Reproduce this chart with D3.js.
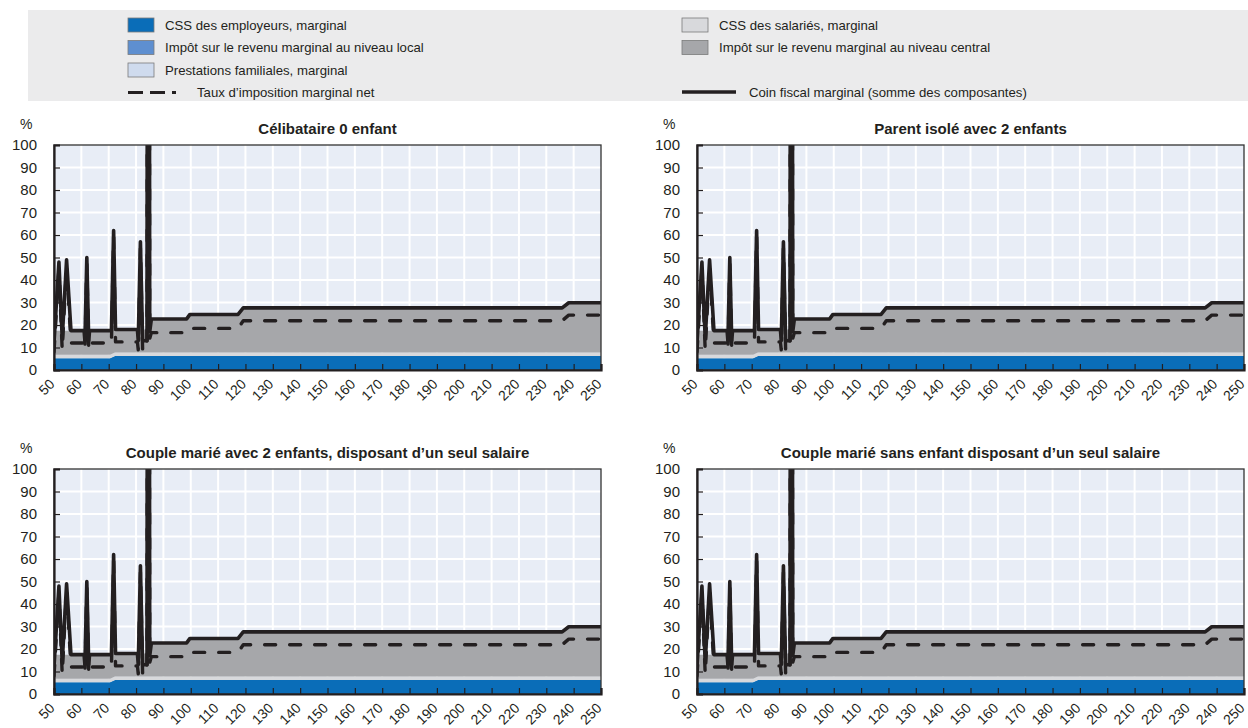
<!DOCTYPE html>
<html><head><meta charset="utf-8">
<script src="https://cdn.jsdelivr.net/npm/d3@7"></script>
<style>
body{margin:0;background:#fff;}
svg{display:block;font-family:"Liberation Sans",Arial,Helvetica,sans-serif;}
</style></head><body>
<svg id="chart" width="1248" height="728"></svg>
<script>
// ---------- DATA ----------
const panelTitles = [
  "Célibataire 0 enfant",
  "Parent isolé avec 2 enfants",
  "Couple marié avec 2 enfants, disposant d’un seul salaire",
  "Couple marié sans enfant disposant d’un seul salaire"
];
const xTickLabels = [50,60,70,80,90,100,110,120,130,140,150,160,170,180,190,200,210,220,230,240,250];
const yTickLabels = [0,10,20,30,40,50,60,70,80,90,100];

// stacked components (vertices, % of labour cost)
const areaX          = [50, 70.5, 72.3, 84.6, 85.5, 98.5, 99.7, 117.3, 119.2, 235.8, 238.2, 250];
const employerSSC    = [5.2, 5.2, 6.2, 6.2, 6.2, 6.2, 6.2, 6.2, 6.2, 6.2, 6.2, 6.2];
const localTax       = [0, 0, 0, 0, 0, 0, 0, 0, 0, 0, 0, 0];
const familyBenefits = [0, 0, 0, 0, 0, 0, 0, 0, 0, 0, 0, 0];
const employeeSSC    = [1.6, 1.6, 1.6, 1.6, 1.6, 1.6, 1.6, 1.6, 1.6, 1.6, 1.6, 1.6];
const centralTax     = [10.7, 10.7, 10.2, 10.2, 14.9, 14.9, 16.9, 16.9, 19.8, 19.8, 22.1, 22.1];

// marginal tax wedge (solid line)
const wedgeX = [50, 51.8, 53, 54.6, 56.2, 61, 61.3, 62, 62.7, 63, 71, 71.8, 72.5, 80.5, 80.8, 81.6, 82.4, 84.0, 84.5, 85.0, 85.6, 98.5, 99.7, 117.3, 119.2, 235.8, 238.2, 250];
const wedgeY = [12, 48, 14, 49, 17.5, 17.5, 13, 50, 13, 17.5, 17.5, 62, 18, 18, 13, 57, 13, 13, 600, 17, 22.7, 22.7, 24.7, 24.7, 27.6, 27.6, 29.9, 29.9];

// net marginal tax rate (dashed line)
const netX = [50, 51.8, 53, 54.6, 56.2, 61, 61.3, 62, 62.7, 63, 71, 71.8, 72.5, 80.5, 80.8, 81.6, 82.4, 84.0, 84.5, 85.0, 85.6, 98.5, 99.7, 117.3, 119.2, 235.8, 238.2, 250];
const netY = [8, 45, 9, 46, 12, 12, 9, 47, 9, 12, 12, 59, 12.5, 12.5, 9, 54, 9, 9, 580, 14, 16.6, 16.6, 18.5, 18.5, 21.9, 21.9, 24.4, 24.4];

const legendBoxes = [
  "CSS des employeurs, marginal",
  "Impôt sur le revenu marginal au niveau local",
  "Prestations familiales, marginal",
  "CSS des salariés, marginal",
  "Impôt sur le revenu marginal au niveau central"
];
const legendLines = ["Taux d’imposition marginal net", "Coin fiscal marginal (somme des composantes)"];

// ---------- STYLE ----------
const colors = ["#0a6db8", "#5e8fd0", "#cfdbee", "#d8d9dc", "#a6a7aa"];
const keys = ["employer", "local", "family", "employee", "central"];
const ink = "#231f20";

const svg = d3.select("#chart");

// legend
svg.append("rect").attr("x", 28).attr("y", 10).attr("width", 1220).attr("height", 91).attr("fill", "#ebebec");
const legPos = [
  {x: 128, y: 25}, {x: 128, y: 47.5}, {x: 128, y: 70},
  {x: 682, y: 25}, {x: 682, y: 47.5}
];
legendBoxes.forEach((t, i) => {
  const p = legPos[i];
  svg.append("rect").attr("x", p.x).attr("y", p.y - 7).attr("width", 26).attr("height", 14)
    .attr("fill", colors[i]).attr("stroke", "#7a7a7a").attr("stroke-width", 0.8);
  svg.append("text").attr("x", p.x + 37).attr("y", p.y).attr("dy", "0.35em")
    .attr("font-size", 13.2).attr("fill", ink).text(t);
});
svg.append("line").attr("x1", 128).attr("x2", 176).attr("y1", 92.5).attr("y2", 92.5)
  .attr("stroke", ink).attr("stroke-width", 3.2).attr("stroke-dasharray", "15,7");
svg.append("text").attr("x", 197).attr("y", 92.5).attr("dy", "0.35em").attr("font-size", 13.2).attr("fill", ink).text(legendLines[0]);
svg.append("line").attr("x1", 682).attr("x2", 736).attr("y1", 92).attr("y2", 92)
  .attr("stroke", ink).attr("stroke-width", 3.6);
svg.append("text").attr("x", 749).attr("y", 92).attr("dy", "0.35em").attr("font-size", 13.2).attr("fill", ink).text(legendLines[1]);

// panels
const W = 547, H = 225;
const panelPos = [{l: 54, t: 145}, {l: 697, t: 145}, {l: 54, t: 469}, {l: 697, t: 469}];

const rows = areaX.map((xv, i) => ({x: xv, employer: employerSSC[i], local: localTax[i],
  family: familyBenefits[i], employee: employeeSSC[i], central: centralTax[i]}));
const stacked = d3.stack().keys(keys)(rows);

panelPos.forEach((p, pi) => {
  const g = svg.append("g").attr("transform", `translate(${p.l},${p.t})`);
  const x = d3.scaleLinear().domain([50, 250]).range([0, W]);
  const y = d3.scaleLinear().domain([0, 100]).range([H, 0]);

  g.append("rect").attr("width", W).attr("height", H).attr("fill", "#e8edf6");
  // grid
  g.selectAll(".vg").data(xTickLabels.slice(1, -1)).join("line")
    .attr("x1", d => x(d)).attr("x2", d => x(d)).attr("y1", 0).attr("y2", H)
    .attr("stroke", "#fff").attr("stroke-width", 2);
  g.selectAll(".hg").data(yTickLabels.slice(1, -1)).join("line")
    .attr("y1", d => y(d)).attr("y2", d => y(d)).attr("x1", 0).attr("x2", W)
    .attr("stroke", "#fff").attr("stroke-width", 2);

  const clipId = "clip" + pi;
  g.append("clipPath").attr("id", clipId).append("rect").attr("width", W).attr("height", H);
  const plot = g.append("g").attr("clip-path", `url(#${clipId})`);

  const area = d3.area().x(d => x(d.data.x)).y0(d => y(d[0])).y1(d => y(d[1]));
  plot.selectAll(".layer").data(stacked).join("path")
    .attr("d", area).attr("fill", (d, i) => colors[i]);

  const line = d3.line().x(d => x(d[0])).y(d => y(d[1]));
  plot.append("path").attr("d", line(netX.map((v, i) => [v, netY[i]])))
    .attr("fill", "none").attr("stroke", ink).attr("stroke-width", 3.4)
    .attr("stroke-dasharray", "11,14").attr("stroke-linecap", "round").attr("stroke-linejoin", "round");
  plot.append("path").attr("d", line(wedgeX.map((v, i) => [v, wedgeY[i]])))
    .attr("fill", "none").attr("stroke", ink).attr("stroke-width", 3.6).attr("stroke-linejoin", "round");

  // frame
  g.append("rect").attr("width", W).attr("height", H).attr("fill", "none").attr("stroke", "#333").attr("stroke-width", 1.3);

  // axes
  const ya = g.append("g").call(d3.axisLeft(y).tickValues(yTickLabels).tickSize(-6).tickPadding(17));
  ya.select(".domain").attr("stroke", ink).attr("stroke-width", 2.2);
  ya.selectAll(".tick line").attr("stroke", ink).attr("stroke-width", 1.2);
  ya.selectAll(".tick text").attr("font-size", 15).attr("fill", ink).attr("font-family", "Liberation Sans, Arial, sans-serif");

  const xa = g.append("g").attr("transform", `translate(0,${H})`)
    .call(d3.axisBottom(x).tickValues(xTickLabels).tickSize(-6));
  xa.select(".domain").attr("stroke", ink).attr("stroke-width", 2.2);
  xa.selectAll(".tick line").attr("stroke", ink).attr("stroke-width", 1.2);
  xa.selectAll(".tick text").attr("font-size", 14).attr("fill", ink)
    .attr("font-family", "Liberation Sans, Arial, sans-serif")
    .attr("y", 0).attr("dy", 0).attr("text-anchor", "end")
    .attr("transform", "translate(1,15) rotate(-45)");

  g.append("text").attr("x", -34).attr("y", -16).attr("font-size", 14).attr("fill", ink).text("%");
  g.append("text").attr("x", W / 2).attr("y", -11).attr("text-anchor", "middle")
    .attr("font-size", 15).attr("font-weight", "bold").attr("fill", ink).text(panelTitles[pi]);
});
</script>
</body></html>
